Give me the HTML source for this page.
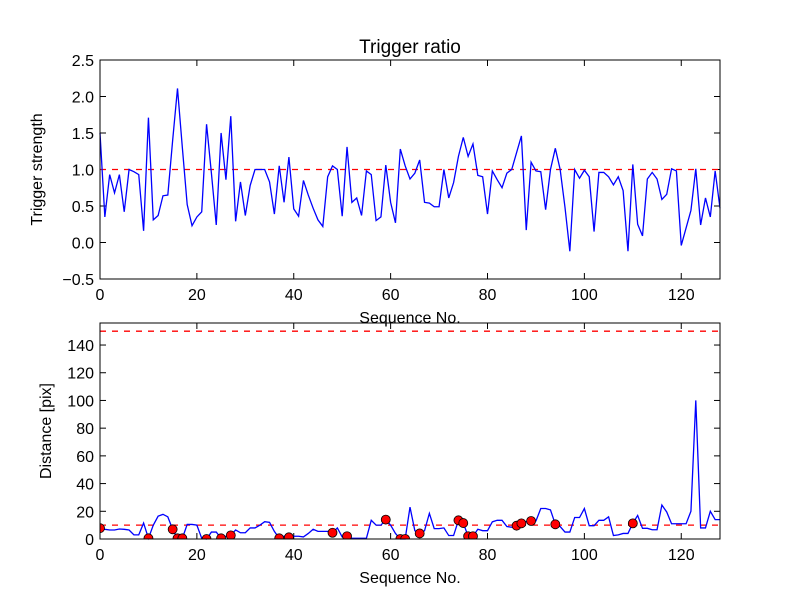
<!DOCTYPE html>
<html><head><meta charset="utf-8"><style>
body{margin:0;background:#fff}
svg{display:block;font-family:"Liberation Sans",sans-serif}
</style></head><body>
<svg id="chart" width="800" height="600" viewBox="0 0 800 600">
<rect width="800" height="600" fill="#fff"/>
</svg>
<script>
const xTicks=[0,20,40,60,80,100,120];
const topYTicks=[-0.5,0.0,0.5,1.0,1.5,2.0,2.5];
const topYTickLabels=["\u22120.5","0.0","0.5","1.0","1.5","2.0","2.5"];
const botYTicks=[0,20,40,60,80,100,120,140];
const triggerStrength=[1.5,0.35,0.93,0.68,0.93,0.42,1.0,0.97,0.93,0.16,1.71,0.31,0.37,0.64,0.65,1.4,2.11,1.3,0.52,0.23,0.35,0.42,1.62,0.95,0.24,1.5,0.86,1.73,0.29,0.83,0.37,0.78,1.0,1.0,1.0,0.83,0.39,1.05,0.55,1.17,0.46,0.36,0.85,0.65,0.47,0.31,0.22,0.9,1.05,1.0,0.36,1.31,0.55,0.61,0.37,0.98,0.93,0.3,0.35,1.06,0.55,0.27,1.28,1.05,0.87,0.95,1.13,0.55,0.54,0.49,0.49,1.0,0.61,0.82,1.18,1.44,1.18,1.35,0.92,0.9,0.39,0.98,0.86,0.75,0.95,1.0,1.23,1.46,0.17,1.1,0.98,0.97,0.45,1.0,1.29,1.0,0.48,-0.12,1.0,0.88,0.99,0.9,0.15,0.96,0.96,0.9,0.79,0.9,0.71,-0.12,1.07,0.25,0.09,0.87,0.96,0.87,0.59,0.66,1.01,0.98,-0.04,0.2,0.44,1.01,0.24,0.61,0.35,0.98,0.47];
const distance=[7.8,7,6.5,6.5,7.2,7,6.5,3,3,11.5,0.5,10,16.5,17.8,16,7,0.5,0.5,10.5,10.5,10,0.5,0,5,5,0.5,2,2.6,6.5,4.5,4.5,8,8,10,12.5,12,5.5,0.5,2,1.2,2,2,1.5,4,7,5.5,5.5,5.5,4.5,8,1.5,2,0.5,0.5,0.5,0.5,13.5,10,10,14,10,4,0,0,23,6,4,6,18.5,7.5,7.5,8,2.5,2.5,13.5,11.5,2,2,7,6,6,12.4,13.5,13.5,9,8.5,9.6,11.3,12.5,13,13,22,22,21,10.6,9,5,5,15.5,15.5,22,9.6,9.6,13.5,13.5,16,2.5,3,4,4,11.3,17,7.7,7.7,6.7,6.7,24.5,19.5,11,11,11,11,20,100,8,8,20,14,14];
const flaggedIdx=[0,10,15,16,17,22,25,27,37,39,48,51,59,62,63,66,74,75,76,77,86,87,89,94,110];
const topThreshold=1.0;
const botThresholds=[10,150];

const NS="http://www.w3.org/2000/svg";
const svg=document.getElementById('chart');
function mk(tag,attrs,parent){const e=document.createElementNS(NS,tag);for(const k in attrs)e.setAttribute(k,attrs[k]);(parent||svg).appendChild(e);return e;}
const X0=100,X1=720,XMAX=128;
const sx=v=>X0+(v/XMAX)*(X1-X0);
function axes(name,top,bot,ymin,ymax,yTicks,yLabels,ylabel,ylx){
  const g=mk('g',{});
  
  
  const sy=v=>bot-(v-ymin)/(ymax-ymin)*(bot-top);
  xTicks.forEach(t=>{
    const x=sx(t);
    mk('line',{x1:x,x2:x,y1:bot,y2:bot-6,stroke:'#000'},g);
    mk('line',{x1:x,x2:x,y1:top,y2:top+6,stroke:'#000'},g);
    const tx=mk('text',{x:x,y:bot+21,'text-anchor':'middle','font-size':16},g);
    tx.textContent=t;
    
    
  });
  yTicks.forEach((t,i)=>{
    const y=sy(t);
    mk('line',{x1:X0,x2:X0+6,y1:y,y2:y,stroke:'#000'},g);
    mk('line',{x1:X1,x2:X1-6,y1:y,y2:y,stroke:'#000'},g);
    const tx=mk('text',{x:X0-6,y:y+6,'text-anchor':'end','font-size':16},g);
    tx.textContent=yLabels[i];
    
    
  });
  const xl=mk('text',{x:410,y:bot+44,'text-anchor':'middle','font-size':16},g);
  xl.textContent='Sequence No.';
  
  
  const cy=(top+bot)/2;
  const yl=mk('text',{x:ylx,y:cy,'text-anchor':'middle','font-size':16,transform:`rotate(-90 ${ylx} ${cy})`},g);
  yl.textContent=ylabel;
  
  
  return {g,sy};
}
// top
const A=axes('top-axes',60,279,-0.5,2.5,topYTicks,topYTickLabels,'Trigger strength',42);
const th=mk('line',{x1:X0,x2:X1,y1:A.sy(topThreshold),y2:A.sy(topThreshold),stroke:'#f00','stroke-width':1.3,'stroke-dasharray':'6,6'},A.g);


const p1=mk('polyline',{points:triggerStrength.map((v,i)=>sx(i)+','+A.sy(v)).join(' '),fill:'none',stroke:'#00f','stroke-width':1.3},A.g);


mk('rect',{x:X0,y:60,width:X1-X0,height:219,fill:'none',stroke:'#000'},A.g);
const t=mk('text',{x:410,y:53,'text-anchor':'middle','font-size':19});
t.textContent='Trigger ratio';


// bottom
const B=axes('bottom-axes',323,539,0,155.9,botYTicks,botYTicks.map(String),'Distance [pix]',51);
const defs=mk('defs',{});
const cp=mk('clipPath',{id:'c2'},defs);
mk('rect',{x:X0,y:323,width:X1-X0,height:216},cp);
botThresholds.forEach(v=>{
  const l=mk('line',{x1:X0,x2:X1,y1:B.sy(v),y2:B.sy(v),stroke:'#f00','stroke-width':1.3,'stroke-dasharray':'6,6'},B.g);
  
  
});
const p2=mk('polyline',{points:distance.map((v,i)=>sx(i)+','+B.sy(v)).join(' '),fill:'none',stroke:'#00f','stroke-width':1.3},B.g);


const dg=mk('g',{'clip-path':'url(#c2)'},B.g);
flaggedIdx.forEach(i=>{
  const c=mk('circle',{cx:sx(i),cy:B.sy(distance[i]),r:4.5,fill:'#f00',stroke:'#000','stroke-width':0.8},dg);
  
  
});
mk('rect',{x:X0,y:323,width:X1-X0,height:216,fill:'none',stroke:'#000'},B.g);
</script>
</body></html>
